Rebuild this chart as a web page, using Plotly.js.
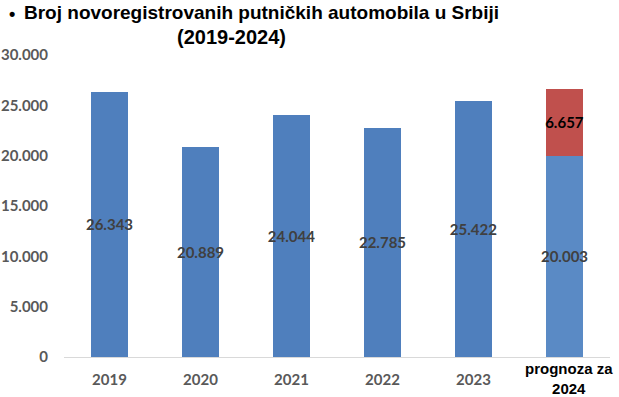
<!DOCTYPE html>
<html>
<head>
<meta charset="utf-8">
<script src="https://cdn.plot.ly/plotly-3.0.1.min.js"></script>
<style>html,body{margin:0;padding:0;background:#fff;}#chart{width:619px;height:397px;}</style>
</head>
<body>
<div id="chart"></div>
<script>
var categories = ["2019", "2020", "2021", "2022", "2023", "2024"];
var tickLabels = ["2019", "2020", "2021", "2022", "2023", " "];
var forecastLabelLines = ["prognoza za", "2024"];
var registered = [26343, 20889, 24044, 22785, 25422, 20003];
var forecastExtra = [null, null, null, null, null, 6657];
var yTicks = [0, 5000, 10000, 15000, 20000, 25000, 30000];
var titleLine1 = "Broj novoregistrovanih putničkih automobila u Srbiji";
var titleLine2 = "(2019-2024)";

function fmt(v) {
  if (v === null) return "";
  return String(v).replace(/\B(?=(\d{3})+(?!\d))/g, ".");
}

var L = 64, R = 9, T = 55, B = 40, W = 619, H = 397;
var pw = W - L - R, ph = H - T - B;
function px2x(px) { return (px - L) / pw; }
function py2y(py) { return (H - B - py) / ph; }

var traces = [
  {
    type: "bar",
    x: categories,
    y: registered,
    marker: { color: ["#4f7fbd", "#4f7fbd", "#4f7fbd", "#4f7fbd", "#4f7fbd", "#5a8ac5"] },
    text: registered.map(fmt),
    textposition: "inside",
    insidetextanchor: "middle",
    textangle: 0,
    constraintext: "none",
    textfont: { family: "Lato, sans-serif", size: 15, color: "#404040", weight: "bold" },
    hoverinfo: "none"
  },
  {
    type: "bar",
    x: categories,
    y: forecastExtra,
    marker: { color: "#c0504d" },
    text: forecastExtra.map(fmt),
    textposition: "inside",
    insidetextanchor: "middle",
    textangle: 0,
    constraintext: "none",
    textfont: { family: "Lato, sans-serif", size: 15, color: "#000000", weight: "bold" },
    hoverinfo: "none"
  }
];

var layout = {
  width: W, height: H,
  margin: { l: L, r: R, t: T, b: B, pad: 0 },
  paper_bgcolor: "#ffffff",
  plot_bgcolor: "#ffffff",
  barmode: "stack",
  bargap: 0.6,
  showlegend: false,
  xaxis: {
    type: "category",
    range: [-0.5, categories.length - 0.5],
    tickvals: categories,
    ticktext: tickLabels,
    tickangle: 0,
    showgrid: false,
    showline: true,
    linecolor: "#d9d9d9",
    linewidth: 1,
    ticks: "",
    ticklabelstandoff: 9,
    tickfont: { family: "Lato, sans-serif", size: 15, color: "#595959", weight: "bold" },
    fixedrange: true
  },
  yaxis: {
    range: [0, 30000],
    tickvals: yTicks,
    ticktext: yTicks.map(fmt),
    showgrid: false,
    zeroline: false,
    showline: false,
    ticks: "",
    ticklabelstandoff: 15,
    tickfont: { family: "Lato, sans-serif", size: 15, color: "#595959", weight: "bold" },
    fixedrange: true
  },
  annotations: [
    {
      xref: "paper", yref: "paper", x: px2x(12), y: py2y(14),
      xanchor: "center", yanchor: "middle", showarrow: false,
      text: "<b>•</b>",
      font: { family: "Liberation Sans, Arial, sans-serif", size: 18, color: "#000000" }
    },
    {
      xref: "paper", yref: "paper", x: px2x(22), y: py2y(12),
      xanchor: "left", yanchor: "middle", showarrow: false,
      text: "<b>" + titleLine1 + "</b>",
      font: { family: "Liberation Sans, Arial, sans-serif", size: 19, color: "#000000" }
    },
    {
      xref: "paper", yref: "paper", x: px2x(231), y: py2y(37),
      xanchor: "center", yanchor: "middle", showarrow: false,
      text: "<b>" + titleLine2 + "</b>",
      font: { family: "Liberation Sans, Arial, sans-serif", size: 20, color: "#000000" }
    },
    {
      xref: "x", yref: "paper", x: categories.length - 1, xshift: 4, y: py2y(378),
      xanchor: "center", yanchor: "middle", showarrow: false,
      text: "<b>" + forecastLabelLines.join("<br>") + "</b>",
      font: { family: "Liberation Sans, Arial, sans-serif", size: 15, color: "#000000" }
    }
  ]
};

Plotly.newPlot("chart", traces, layout, { displayModeBar: false, staticPlot: true });
</script>
</body>
</html>
